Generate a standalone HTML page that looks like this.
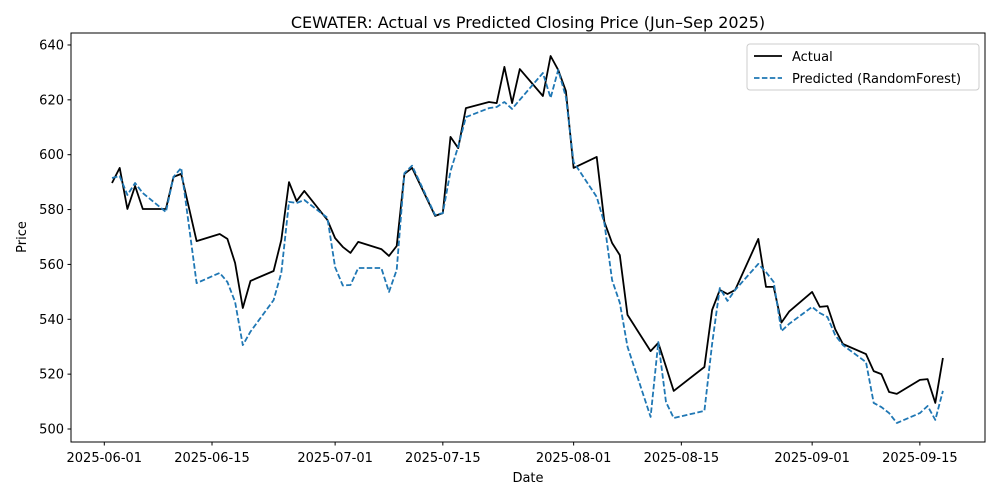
<!DOCTYPE html>
<html><head><meta charset="utf-8"><style>
html,body{margin:0;padding:0;background:#fff;}
svg{display:block;font-family:"DejaVu Sans","Liberation Sans",sans-serif;}
</style></head><body>
<svg id="chart" width="1000" height="500" viewBox="0 0 1000 500" xmlns="http://www.w3.org/2000/svg">
<rect x="0" y="0" width="1000" height="500" fill="#fff"/>
<text x="528" y="28" font-size="16" text-anchor="middle" fill="#000">CEWATER: Actual vs Predicted Closing Price (Jun–Sep 2025)</text>
<g id="xticks"></g>
<g id="yticks"></g>
<g id="series"></g>
<rect x="71" y="33" width="914" height="409" fill="none" stroke="#000" stroke-width="1"/>
<text x="528" y="482" font-size="13" text-anchor="middle" fill="#000">Date</text>
<text x="0" y="0" font-size="13" text-anchor="middle" fill="#000" transform="translate(26,237) rotate(-90)">Price</text>
<g>
<rect x="747" y="44" width="232" height="46" rx="3" fill="#fff" stroke="#ccc" stroke-width="1"/>
<line x1="754" y1="56" x2="782" y2="56" stroke="#000" stroke-width="1.8"/>
<text x="792" y="61" font-size="13" fill="#000">Actual</text>
<line x1="754" y1="78" x2="782" y2="78" stroke="#1f77b4" stroke-width="1.8" stroke-dasharray="5.5,2.4"/>
<text x="792" y="83" font-size="13" fill="#000">Predicted (RandomForest)</text>
</g>
</svg>
<script>
const dates = ["2025-06-02","2025-06-03","2025-06-04","2025-06-05","2025-06-06","2025-06-09","2025-06-10","2025-06-11","2025-06-13","2025-06-16","2025-06-17","2025-06-18","2025-06-19","2025-06-20","2025-06-23","2025-06-24","2025-06-25","2025-06-26","2025-06-27","2025-06-30","2025-07-01","2025-07-02","2025-07-03","2025-07-04","2025-07-07","2025-07-08","2025-07-09","2025-07-10","2025-07-11","2025-07-14","2025-07-15","2025-07-16","2025-07-17","2025-07-18","2025-07-21","2025-07-22","2025-07-23","2025-07-24","2025-07-25","2025-07-28","2025-07-29","2025-07-30","2025-07-31","2025-08-01","2025-08-04","2025-08-05","2025-08-06","2025-08-07","2025-08-08","2025-08-11","2025-08-12","2025-08-13","2025-08-14","2025-08-18","2025-08-19","2025-08-20","2025-08-21","2025-08-22","2025-08-25","2025-08-26","2025-08-27","2025-08-28","2025-08-29","2025-09-01","2025-09-02","2025-09-03","2025-09-04","2025-09-05","2025-09-08","2025-09-09","2025-09-10","2025-09-11","2025-09-12","2025-09-15","2025-09-16","2025-09-17","2025-09-18"];
const actual = [589.7,595.2,580.2,588.6,580.2,580.2,591.9,593,568.5,571.1,569.3,560.5,544.1,554,557.6,568.9,590,583.1,586.8,576.2,569.6,566.4,564.2,568.2,565.6,563.1,566.7,593,595.2,577.7,578.7,606.5,602.4,617,619.2,618.8,632,618.8,631.2,621.4,636,630.9,623.2,595.2,599.2,575.5,567.8,563.4,541.6,528.4,531.4,522.7,513.9,522.6,543.4,550.7,549.2,550.7,569.3,551.8,551.8,538.8,542.8,550,544.5,544.8,536.4,531,527.3,521.1,520,513.5,512.8,517.9,518.2,509.5,525.9];
const predicted = [591.5,592.2,585.3,589.7,586,579.1,591.9,595.2,553.2,556.9,553.6,546.3,530.6,535.5,547,556.9,582.8,582.4,583.5,577,559,552.3,552.5,558.7,558.7,550,558,593.3,596,578,578.7,594,603,613.7,617,617.4,619.2,616.7,620,629.8,620.7,630.9,621,597.3,584.6,575,554.3,546,530,504.4,531.7,509.8,504,506.6,531,551.4,546.7,550.7,560.2,557.2,553.6,535.7,538.3,544.5,542.3,540.8,534.2,530.6,524.4,509.5,508,505.8,502.2,505.8,508.4,503.3,513.9];
const xTickLabels = ["2025-06-01","2025-06-15","2025-07-01","2025-07-15","2025-08-01","2025-08-15","2025-09-01","2025-09-15"];
const yTickValues = [500,520,540,560,580,600,620,640];

const NS = "http://www.w3.org/2000/svg";
const base = Date.UTC(2025,5,1);
function dayOf(s){const p=s.split("-");return (Date.UTC(+p[0],+p[1]-1,+p[2])-base)/86400000;}
function xScale(s){return 104.3 + dayOf(s)*7.694;}
function yScale(v){return 429 - (v-500)*2.743;}
function mk(tag, attrs){const e=document.createElementNS(NS,tag);for(const k in attrs)e.setAttribute(k,attrs[k]);return e;}

const xg=document.getElementById("xticks");
xTickLabels.forEach(t=>{
  const x=xScale(t);
  const l=mk("line",{x1:x,y1:442,x2:x,y2:445.5,stroke:"#000","stroke-width":1});
  
  
  xg.appendChild(l);
  const tx=mk("text",{x:x,y:462,"font-size":13,"text-anchor":"middle",fill:"#000"});
  tx.textContent=t;
  
  
  xg.appendChild(tx);
});
const yg=document.getElementById("yticks");
yTickValues.forEach(v=>{
  const y=yScale(v);
  const l=mk("line",{x1:67.5,y1:y,x2:71,y2:y,stroke:"#000","stroke-width":1});
  
  
  yg.appendChild(l);
  const tx=mk("text",{x:64,y:y+4.5,"font-size":13,"text-anchor":"end",fill:"#000"});
  tx.textContent=String(v);
  
  
  yg.appendChild(tx);
});
const sg=document.getElementById("series");
function pts(vals){return dates.map((d,i)=>xScale(d).toFixed(1)+","+yScale(vals[i]).toFixed(1)).join(" ");}
const pa=mk("polyline",{points:pts(actual),fill:"none",stroke:"#000","stroke-width":1.8,"stroke-linejoin":"round"});


sg.appendChild(pa);
const pp=mk("polyline",{points:pts(predicted),fill:"none",stroke:"#1f77b4","stroke-width":1.8,"stroke-dasharray":"5.5,2.4","stroke-linejoin":"round"});


sg.appendChild(pp);
</script>
</body></html>
